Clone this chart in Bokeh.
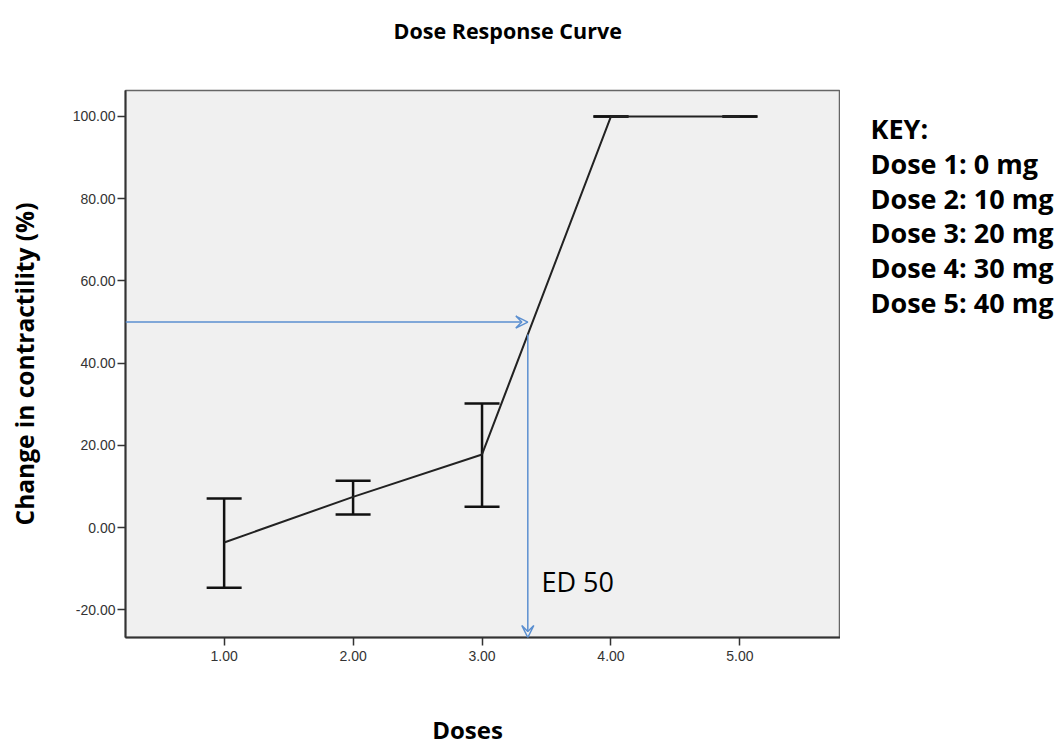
from bokeh.plotting import figure
from bokeh.layouts import row, column
from bokeh.models import (Range1d, FixedTicker, PrintfTickFormatter, ColumnDataSource,
                          Whisker, TeeHead, Arrow, VeeHead, Label)
from bokeh.core.properties import value
from bokeh.embed import file_html
from bokeh.resources import INLINE

# ---- data ----
doses = [1, 2, 3, 4, 5]
means = [-3.6, 7.5, 17.8, 100.0, 100.0]
upper = [7.1, 11.4, 30.2, 100.0, 100.0]
lower = [-14.6, 3.2, 5.1, 100.0, 100.0]
x_ticks = [1, 2, 3, 4, 5]
y_ticks = [-20, 0, 20, 40, 60, 80, 100]
ed50_x = 3.355
ed50_y = 50
title_text = "Dose Response Curve"
x_title = "Doses"
y_title = "Change in contractility (%)"
key_lines = ["KEY:", "Dose 1: 0 mg", "Dose 2: 10 mg", "Dose 3: 20 mg",
             "Dose 4: 30 mg", "Dose 5: 40 mg"]

W, H = 1060, 755
TH = 60                      # height of the title strip
FL, FR, FT, FB = 125, 840, 90, 637
PB = 40                      # bottom border of the main plot (ticks + labels)
PH = FB + PB - TH            # main plot height
BH = H - TH - PH             # bottom strip height
X0, X1 = 0.235, 5.78
Y0, Y1 = -26.7, 106.3

def px_x(px):
    return X0 + (px - FL) * (X1 - X0) / (FR - FL)

def px_y(py):
    return Y1 - (py - FT) * (Y1 - Y0) / (FB - FT)

def strip(width, height):
    f = figure(width=width, height=height, output_backend="svg", toolbar_location=None,
               x_range=Range1d(0, width), y_range=Range1d(height, 0),
               x_axis_type=None, y_axis_type=None, min_border=0)
    f.outline_line_color = None
    f.grid.visible = False
    f.background_fill_color = "white"
    f.border_fill_color = "white"
    return f

# ---- title strip ----
t = strip(W, TH)
t.text(x=[393], y=[30], text=[title_text], text_font=value("Open Sans"),
       text_font_style="bold", text_font_size="21.5px", text_color="black",
       text_align="left", text_baseline="middle")

# ---- main plot ----
p = figure(width=FR, height=PH, output_backend="svg", toolbar_location=None,
           x_range=Range1d(X0, X1), y_range=Range1d(Y0, Y1),
           min_border_left=FL, min_border_right=0,
           min_border_top=FT - TH, min_border_bottom=PB)
p.background_fill_color = "#f0f0f0"
p.border_fill_color = "white"
p.outline_line_color = "#666666"
p.outline_line_width = 1.5
p.grid.visible = False

for ax in (p.xaxis, p.yaxis):
    ax.axis_line_color = "#333333"
    ax.axis_line_width = 2
    ax.major_tick_line_color = "#333333"
    ax.major_tick_line_width = 1.5
    ax.major_tick_out = 8
    ax.major_tick_in = 0
    ax.minor_tick_line_color = None
    ax.major_label_text_font = "Liberation Sans"
    ax.major_label_text_font_size = "14px"
    ax.major_label_text_color = "#333333"
    ax.formatter = PrintfTickFormatter(format="%.2f")
    ax.axis_label_text_font = "Open Sans"
    ax.axis_label_text_font_style = "bold"
    ax.axis_label_text_color = "black"
p.xaxis.ticker = FixedTicker(ticks=x_ticks)
p.yaxis.ticker = FixedTicker(ticks=y_ticks)
p.xaxis.major_label_standoff = 5
p.yaxis.major_label_standoff = 2
p.yaxis.axis_label = y_title
p.yaxis.axis_label_text_font_size = "24.5px"
p.yaxis.axis_label_standoff = 29

src = ColumnDataSource(dict(x=doses, m=means, up=upper, lo=lower))
p.line("x", "m", source=src, line_color="#222222", line_width=2)
wh = Whisker(base="x", upper="up", lower="lo", source=src,
             line_color="#111111", line_width=2.5,
             upper_head=TeeHead(size=35, line_color="#111111", line_width=2.5),
             lower_head=TeeHead(size=35, line_color="#111111", line_width=2.5))
p.add_layout(wh)

blue = "#5b8fd0"
p.add_layout(Arrow(x_start=X0, y_start=ed50_y, x_end=ed50_x, y_end=ed50_y,
                   line_color=blue, line_width=1.5,
                   end=VeeHead(size=12, line_color=blue, line_width=1.5, fill_color=None)))
cross_y = means[2] + (ed50_x - doses[2]) * (means[3] - means[2]) / (doses[3] - doses[2])
p.add_layout(Arrow(x_start=ed50_x, y_start=cross_y, x_end=ed50_x, y_end=Y0,
                   line_color=blue, line_width=1.5,
                   end=VeeHead(size=12, line_color=blue, line_width=1.5, fill_color=None)))

p.add_layout(Label(x=px_x(541), y=px_y(581), text="ED 50", text_font="Open Sans",
                   text_font_size="27px", text_color="black",
                   text_align="left", text_baseline="middle"))

# ---- key panel (frame aligned with main frame vertically) ----
KW = W - FR
k = figure(width=KW, height=PH, output_backend="svg", toolbar_location=None,
           x_range=Range1d(0, KW), y_range=Range1d(FB, FT),
           x_axis_type=None, y_axis_type=None, min_border=0)
k.outline_line_color = None
k.grid.visible = False
k.background_fill_color = "white"
k.border_fill_color = "white"
ky = [128 + i * 34.8 for i in range(len(key_lines))]
k.text(x=[30] * len(key_lines), y=ky, text=key_lines,
       text_font=value("Open Sans"), text_font_style="bold", text_font_size="27px",
       text_color="black", text_align="left", text_baseline="middle")

# ---- bottom strip with the x-axis title ----
b = strip(W, BH)
b.text(x=[467], y=[729 - (H - BH)], text=[x_title], text_font=value("Open Sans"),
       text_font_style="bold", text_font_size="24px", text_color="black",
       text_align="center", text_baseline="middle")

layout = column(t, row(p, k, spacing=0), b, spacing=0)
open("out.html", "w").write(file_html(layout, INLINE))
